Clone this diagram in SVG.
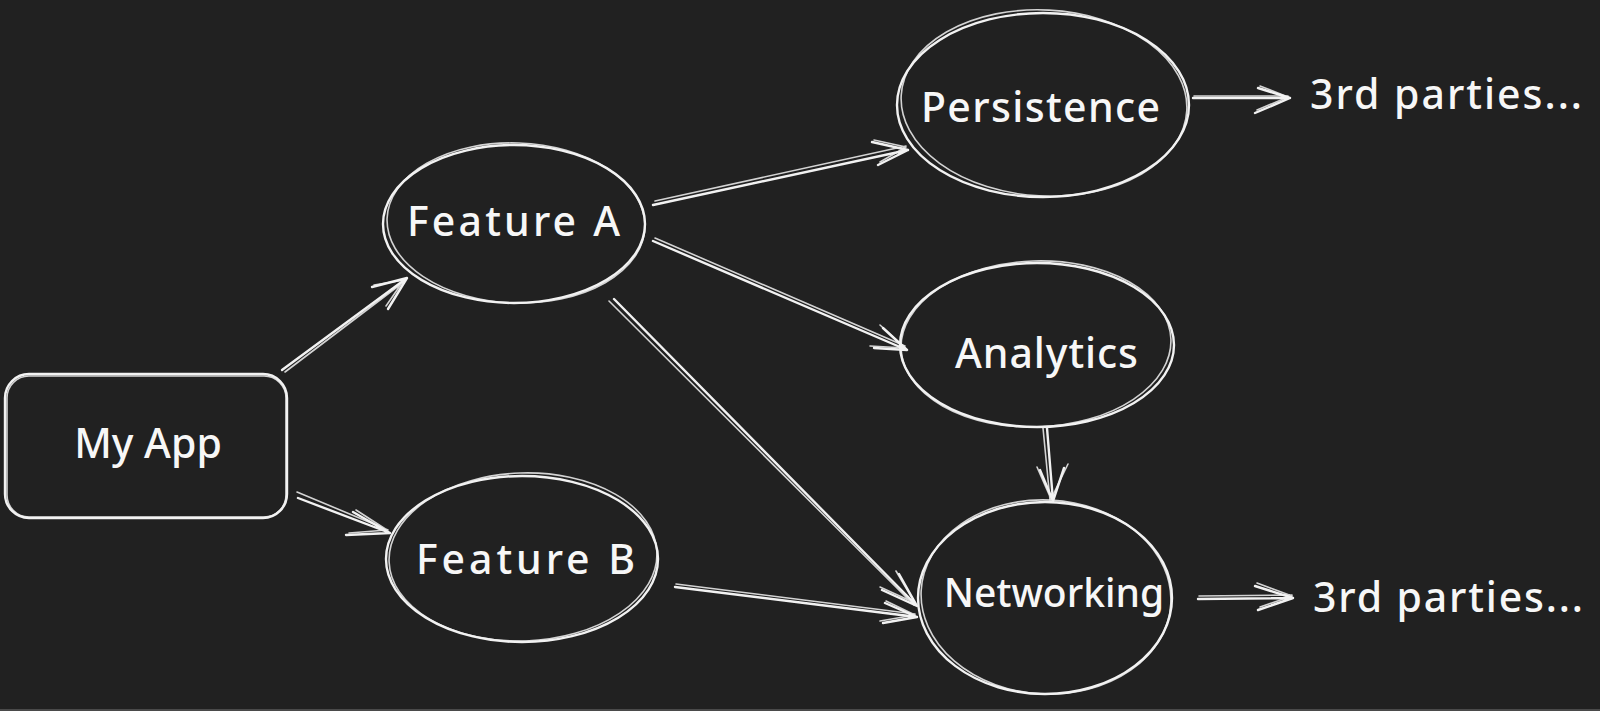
<svg xmlns="http://www.w3.org/2000/svg" width="1600" height="711" viewBox="0 0 1600 711">
  <defs>
    <style>
      .s { fill: none; stroke: #f2f2f2; stroke-width: 2.4; stroke-linecap: round; stroke-linejoin: round; }
      .s2 { fill: none; stroke: #f2f2f2; stroke-width: 1.6; stroke-linecap: round; stroke-linejoin: round; opacity: 0.85; }
      .t { font-family: "Noto Sans", "Liberation Sans", sans-serif; font-size: 41px; font-weight: 500; fill: #f7f7f7; }
      .c { text-anchor: middle; }
    </style>
  </defs>
  <rect x="0" y="0" width="1600" height="711" fill="#212121"/>
  <rect x="0" y="709" width="1600" height="2" fill="#4a4a4a"/>

  <g id="my-app">
    <rect class="s" x="5" y="374" width="282" height="144" rx="24"/>
    <rect class="s2" x="7" y="376" width="279" height="141" rx="22"/>
    <text class="t c" x="148" y="458">My App</text>
  </g>

  <g id="feature-a">
    <ellipse class="s" cx="514" cy="224" rx="131" ry="79"/>
    <ellipse class="s2" cx="516" cy="223" rx="129" ry="80" transform="rotate(2 516 223)"/>
    <text class="t" x="407" y="236" textLength="213">Feature A</text>
  </g>

  <g id="feature-b">
    <ellipse class="s" cx="522" cy="559" rx="136" ry="83"/>
    <ellipse class="s2" cx="523" cy="557" rx="134" ry="84" transform="rotate(-2 523 557)"/>
    <text class="t" x="416" y="574" textLength="219">Feature B</text>
  </g>

  <g id="persistence">
    <ellipse class="s" cx="1043" cy="105" rx="146" ry="92"/>
    <ellipse class="s2" cx="1044" cy="103" rx="143" ry="93" transform="rotate(3 1044 103)"/>
    <text class="t" x="921" y="122" textLength="239">Persistence</text>
  </g>

  <g id="analytics">
    <ellipse class="s" cx="1037" cy="345" rx="137" ry="82"/>
    <ellipse class="s2" cx="1036" cy="344" rx="135" ry="83" transform="rotate(-2 1036 344)"/>
    <text class="t" x="955" y="368" textLength="183">Analytics</text>
  </g>

  <g id="networking">
    <ellipse class="s" cx="1045" cy="598" rx="127" ry="96"/>
    <ellipse class="s2" cx="1046" cy="597" rx="125" ry="97" transform="rotate(3 1046 597)"/>
    <text class="t c" x="1054" y="607" style="font-size:39px">Networking</text>
  </g>

  <g id="third-parties-top">
    <text class="t" x="1310" y="109" textLength="272">3rd parties...</text>
  </g>

  <g id="third-parties-bottom">
    <text class="t" x="1313" y="612" textLength="270">3rd parties...</text>
  </g>

  <g id="connectors">
    <path class="s" d="M282 370 L407 278 M372 287 L407 278 L388 309"/>
    <path class="s2" d="M285 372 L405 281 M374 285 L404 280 L386 306"/>
    <path class="s" d="M298 498 L390 533 M353 512 L390 533 L346 535"/>
    <path class="s2" d="M297 492 L388 530 M356 510 L387 530 L349 533"/>
    <path class="s" d="M653 205 L908 150 M872 142 L908 150 L878 165"/>
    <path class="s2" d="M655 201 L906 146 M874 140 L906 147 L880 162"/>
    <path class="s" d="M653 241 L907 350 M883 328 L907 350 L874 348"/>
    <path class="s2" d="M655 238 L905 346 M880 325 L905 348 L870 346"/>
    <path class="s" d="M614 299 L917 606 M899 574 L917 606 L882 590"/>
    <path class="s2" d="M609 301 L914 605 M896 571 L915 603 L880 587"/>
    <path class="s" d="M675 587 L917 617 M883 623 L917 617 L885 603"/>
    <path class="s2" d="M676 584 L915 614 M880 621 L915 615 L886 601"/>
    <path class="s" d="M1047 428 L1053 501 M1040 470 L1053 501 L1064 468"/>
    <path class="s2" d="M1043 428 L1050 500 M1037 467 L1051 499 L1068 464"/>
    <path class="s" d="M1193 98 L1290 98 M1258 88 L1290 98 L1255 113"/>
    <path class="s2" d="M1194 96 L1288 96 M1260 86 L1288 97 L1257 110"/>
    <path class="s" d="M1198 599 L1293 598 M1255 586 L1293 598 L1258 610"/>
    <path class="s2" d="M1199 596 L1292 595 M1257 583 L1292 596 L1260 607"/>
  </g>
</svg>
